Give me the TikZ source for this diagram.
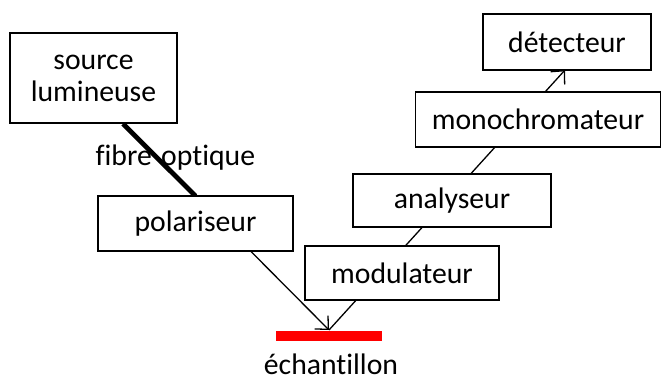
\documentclass[tikz,border=0pt]{standalone}
\usepackage{fontspec}
\setmainfont[Ligatures=NoCommon]{Carlito}
\usetikzlibrary{arrows.meta,backgrounds}
\begin{document}
\begin{tikzpicture}[x=1pt,y=-1pt,
  box/.style={draw=black,line width=1.7pt,fill=white,inner sep=0pt,align=center,
    font=\fontsize{29.7}{32}\selectfont},
  lbl/.style={inner sep=0pt,font=\fontsize{29.7}{32}\selectfont},
  beam/.style={line width=1.3pt,draw=black},
  fibreline/.style={line width=4.8pt,draw=black},
  tip/.style={-{Straight Barb[length=10pt,width=19pt,line width=1.3pt]}}]
\useasboundingbox (0,0) rectangle (662,381);
% boxes
\node[box,minimum width=167pt,minimum height=90pt] (src) at (93.5,78) {source\\lumineuse};
\node[box,minimum width=195pt,minimum height=55pt] (pol) at (195.5,223.5) {polariseur};
\node[box,minimum width=194pt,minimum height=54pt] (mod) at (402,273) {modulateur};
\node[box,minimum width=198pt,minimum height=53pt] (ana) at (452,200.5) {analyseur};
\node[box,minimum width=245pt,minimum height=55pt] (mono) at (538,119.5) {monochromateur};
\node[box,minimum width=168pt,minimum height=56pt] (det) at (567,42) {détecteur};
% sample
\node[fill=red,draw=none,minimum width=106pt,minimum height=10pt,inner sep=0pt] (ech) at (329,336) {};
\coordinate (s) at (329,330);
\coordinate (fa) at (123,123.8);
\coordinate (fb) at (195.5,196);
\coordinate (pb) at (250.5,251);
\coordinate (dt) at (565,70);
\begin{scope}[on background layer]
  \draw[fibreline] (fa) -- (fb);
  \draw[beam,tip] (pb) -- (s);
  \draw[beam,tip] (s) -- (dt);
\end{scope}
% labels
\node[lbl,anchor=base east] (fib) at (152,165) {fibre};
\node[lbl,anchor=base west] (opt) at (161,165) {optique};
\node[lbl,anchor=base] (echl) at (331,374.5) {échantillon};
\end{tikzpicture}
\end{document}
